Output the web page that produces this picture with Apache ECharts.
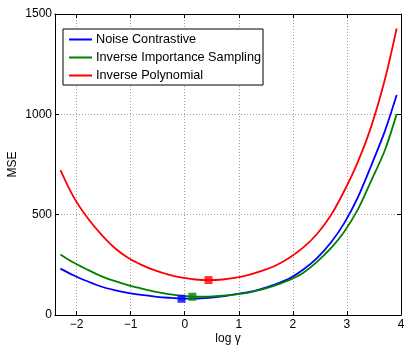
<!DOCTYPE html>
<html>
<head>
<meta charset="utf-8">
<script src="https://cdn.jsdelivr.net/npm/echarts@6/dist/echarts.min.js"></script>
<style>
  html, body { margin: 0; padding: 0; background: #fff; }
  #main { width: 404px; height: 345px; }
</style>
</head>
<body>
<div id="main"></div>
<script>
const xs = [-2.3, -2.05, -1.8, -1.55, -1.3, -1.05, -0.8, -0.55, -0.3, -0.05, 0.2, 0.45, 0.7,
            0.95, 1.2, 1.45, 1.7, 1.95, 2.2, 2.45, 2.7, 2.95, 3.2, 3.45, 3.7, 3.92];
const noiseContrastive = [231, 197, 168, 142, 124, 110, 100, 92, 86, 82, 82, 86, 93,
                          104, 115, 133, 155, 184, 228, 285, 360, 458, 585, 745, 915, 1096];
const inverseImportance = [302, 260, 226, 194, 170, 149, 132, 116, 104, 95, 91, 92, 96,
                           103, 113, 129, 150, 176, 212, 266, 332, 415, 525, 670, 820, 1001];
const inversePolynomial = [722, 585, 485, 403, 335, 285, 250, 222, 201, 186, 177, 174, 177,
                           186, 201, 222, 249, 288, 338, 405, 496, 618, 762, 940, 1172, 1428];
// minimum of each curve
const minima = [[-0.06, 81], [0.14, 91], [0.44, 174]];
const names = ["Noise Contrastive", "Inverse Importance Sampling", "Inverse Polynomial"];
const colors = ["#0000ff", "#008000", "#ff0000"];

const font = "Liberation Sans";
const pairs = (ys) => xs.map((x, i) => [x, ys[i]]);

const chart = echarts.init(document.getElementById("main"));
const lineSeries = [noiseContrastive, inverseImportance, inversePolynomial].map((ys, i) => ({
  name: names[i],
  type: "line",
  data: pairs(ys),
  smooth: 0.3,
  showSymbol: false,
  lineStyle: { color: colors[i], width: 1.8 },
  itemStyle: { color: colors[i] },
  z: 3,
}));
const markerSeries = minima.map((p, i) => ({
  name: "min" + i,
  type: "scatter",
  data: [p],
  symbol: "rect",
  symbolSize: 8,
  itemStyle: { color: colors[i] },
  z: 5,
}));

const edgeAxis = {
  axisLine: { show: true, onZero: false, lineStyle: { color: "#000", width: 1 } },
  axisTick: { show: true, inside: true, length: 4, lineStyle: { color: "#000" } },
  axisLabel: { show: false },
  splitLine: { show: false },
};
const gridLine = { show: true, lineStyle: { color: "#a0a0a0", type: [1, 2], width: 1 } };

chart.setOption({
  animation: false,
  textStyle: { fontFamily: font },
  grid: { left: 55, right: 3, top: 14, bottom: 30, outerBoundsMode: "none", containLabel: false },
  legend: {
    data: names,
    orient: "vertical",
    left: 63,
    top: 29,
    icon: "rect",
    itemWidth: 23,
    itemHeight: 2,
    itemGap: 5,
    padding: [4, 2, 3, 6],
    borderColor: "#000",
    borderWidth: 1,
    borderRadius: 0,
    backgroundColor: "#fff",
    textStyle: { fontFamily: font, fontSize: 12.7, color: "#000", padding: [0, 0, 0, -1] },
  },
  xAxis: [
    {
      type: "value",
      min: -2.4,
      max: 4,
      splitNumber: 6,
      name: "log γ",
      nameLocation: "middle",
      nameGap: 18,
      nameMoveOverlap: false,
      nameTextStyle: { fontFamily: font, fontSize: 12, color: "#000" },
      axisLine: { show: true, onZero: false, lineStyle: { color: "#000", width: 1 } },
      axisTick: { show: true, inside: true, length: 4, lineStyle: { color: "#000" } },
      axisLabel: {
        color: "#000",
        fontSize: 12,
        fontFamily: font,
        margin: 4,
        showMinLabel: false,
        formatter: (v) => (Number.isInteger(v) ? String(v).replace("-", "\u2212") : ""),
      },
      splitLine: gridLine,
    },
    Object.assign({ type: "value", position: "top", min: -2.4, max: 4, splitNumber: 6 }, edgeAxis),
  ],
  yAxis: [
    {
      type: "value",
      min: 0,
      max: 1500,
      interval: 500,
      name: "MSE",
      nameLocation: "middle",
      nameGap: 36,
      nameMoveOverlap: false,
      nameTextStyle: { fontFamily: font, fontSize: 12, color: "#000" },
      axisLine: { show: true, onZero: false, lineStyle: { color: "#000", width: 1 } },
      axisTick: { show: true, inside: true, length: 4, lineStyle: { color: "#000" } },
      axisLabel: { color: "#000", fontSize: 12, fontFamily: font, margin: 3, formatter: (v) => String(v) },
      splitLine: gridLine,
    },
    Object.assign({ type: "value", position: "right", min: 0, max: 1500, interval: 500 }, edgeAxis),
  ],
  series: lineSeries.concat(markerSeries),
});
</script>
</body>
</html>
